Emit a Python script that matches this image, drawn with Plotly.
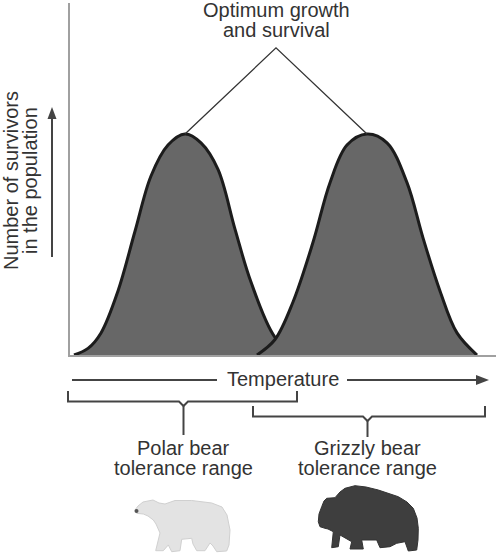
import plotly.graph_objects as go

# survival curves (x = temperature units, y = % of peak survivors)
polar_x = [4, 18, 31, 48, 65, 81, 98, 115, 131, 148, 165, 181, 205, 226]
polar_y = [0, 3, 10, 29, 56, 81, 95, 100, 96, 84, 57, 33, 8, 0]
grizzly_x = [187, 205, 223, 243, 260, 277, 297, 317, 337, 353, 370, 387, 407]
grizzly_y = [0, 7, 24, 51, 78, 95, 100, 96, 78, 53, 29, 10, 0]

title_lines = ['Optimum growth', 'and survival']
ylabel_lines = ['Number of survivors', 'in the population']
polar_label = ['Polar bear', 'tolerance range']
grizzly_label = ['Grizzly bear', 'tolerance range']

W, H = 496, 554
FONT = 'Liberation Sans, Arial, sans-serif'
TXT = '#333333'


def pp(x, y):
    # pixel -> paper (margins are zero so paper == whole figure)
    return x / W, 1 - y / H


def path(pts, close=False):
    s = ''
    for i, (x, y) in enumerate(pts):
        a, b = pp(x, y)
        s += ('M' if i == 0 else 'L') + f'{a:.5f},{b:.5f} '
    return s + ('Z' if close else '')


fig = go.Figure()

fig.add_trace(go.Scatter(x=polar_x, y=polar_y, fill='tozeroy', fillcolor='#676767',
                         mode='lines', line=dict(color='#1c1c1c', width=3, shape='spline', smoothing=1.0),
                         showlegend=False, hoverinfo='skip'))
fig.add_trace(go.Scatter(x=grizzly_x, y=grizzly_y, fill='tozeroy', fillcolor='#676767',
                         mode='lines', line=dict(color='#1c1c1c', width=3, shape='spline', smoothing=1.0),
                         showlegend=False, hoverinfo='skip'))

# pointer lines from the label to both peaks
p1 = polar_x[polar_y.index(max(polar_y))]
p2 = grizzly_x[grizzly_y.index(max(grizzly_y))]
fig.add_trace(go.Scatter(x=[p1, (p1 + p2) / 2, p2], y=[max(polar_y), 139, max(grizzly_y)],
                         mode='lines', line=dict(color='#333333', width=1.3),
                         showlegend=False, hoverinfo='skip'))

shapes = []
line_style = dict(color='#444444', width=2)

# temperature arrow
shapes.append(dict(type='path', xref='paper', yref='paper', path=path([(72, 380), (217, 380)]), line=line_style))
shapes.append(dict(type='path', xref='paper', yref='paper', path=path([(347, 380), (480, 380)]), line=line_style))
shapes.append(dict(type='path', xref='paper', yref='paper', path=path([(489, 380), (476, 375), (476, 385)], True),
                   fillcolor='#444444', line=dict(width=0)))

# y arrow
shapes.append(dict(type='path', xref='paper', yref='paper', path=path([(52, 257), (52, 116)]), line=line_style))
shapes.append(dict(type='path', xref='paper', yref='paper', path=path([(52, 107), (47.5, 119), (56.5, 119)], True),
                   fillcolor='#444444', line=dict(width=0)))

# brackets
shapes.append(dict(type='path', xref='paper', yref='paper',
                   path=path([(68, 391), (68, 401.5), (179, 401.5), (183.5, 406), (188, 401.5), (297, 401.5), (297, 391)]),
                   line=line_style))
shapes.append(dict(type='path', xref='paper', yref='paper', path=path([(183.5, 406), (183.5, 435)]), line=line_style))
shapes.append(dict(type='path', xref='paper', yref='paper',
                   path=path([(253, 406), (253, 416.5), (363, 416.5), (367.5, 421), (372, 416.5), (485, 416.5), (485, 406)]),
                   line=line_style))
shapes.append(dict(type='path', xref='paper', yref='paper', path=path([(367.5, 421), (367.5, 437)]), line=line_style))

# bear silhouettes
polar_body = [(135, 510), (138, 506), (143, 502), (148, 501), (153, 500), (159, 503), (165, 504), (175, 500.5),
              (191.7, 500.5), (211.7, 503), (222, 507), (227, 515), (230, 530), (229, 545), (226.7, 551),
              (216.7, 551.7), (213, 546), (210, 543), (205, 550.7), (196.7, 550.7), (193, 544), (191.7, 538.3),
              (181.7, 539.3), (180, 550.7), (171.7, 551.7), (168.3, 545), (163.3, 550.7), (155.7, 550.7),
              (160, 533), (156, 524), (153.3, 520), (148, 516), (143.3, 514), (136.7, 513.3)]
shapes.append(dict(type='path', xref='paper', yref='paper', path=path(polar_body, True),
                   fillcolor='#e3e3e3', line=dict(color='#d0d0d0', width=1)))
a, b = pp(134.5, 509)
c, d = pp(138.5, 513)
shapes.append(dict(type='circle', xref='paper', yref='paper', x0=a, y0=b, x1=c, y1=d,
                   fillcolor='#555555', line=dict(width=0)))

grizzly_body = [(318.3, 521.7), (319, 514), (321.7, 506.7), (324, 501), (326.7, 498.3), (335, 497.7),
                (340, 492), (345, 488.3), (355, 485.7), (366, 487), (378.3, 490), (398.3, 496.7), (407, 502),
                (413.3, 508.3), (417, 518), (418.3, 528.3), (418, 540), (416.7, 550), (408.3, 551), (405, 541.7),
                (396.7, 543.3), (390, 546.7), (380, 547.7), (376.7, 540), (361.7, 540), (363.3, 549), (350, 549),
                (351.7, 541.7), (340, 535), (338.3, 546.7), (331.7, 547.7), (333.3, 531.7), (328, 529),
                (325, 528.3), (320, 526.7)]
shapes.append(dict(type='path', xref='paper', yref='paper', path=path(grizzly_body, True),
                   fillcolor='#3e3e3e', line=dict(color='#333333', width=1)))

annotations = []


def label(text, x, y, angle=0):
    a, b = pp(x, y)
    annotations.append(dict(text=text, x=a, y=b, xref='paper', yref='paper', showarrow=False,
                            xanchor='center', yanchor='middle', textangle=angle,
                            font=dict(family=FONT, size=20, color=TXT)))


label(title_lines[0], 276, 9.5)
label(title_lines[1], 276, 30)
label('Temperature', 283, 379)
label(polar_label[0], 183.5, 448)
label(polar_label[1], 183.5, 468)
label(grizzly_label[0], 367.5, 448)
label(grizzly_label[1], 367.5, 468)
label(ylabel_lines[0], 11, 181, -90)
label(ylabel_lines[1], 30, 181, -90)

fig.update_layout(
    width=W, height=H,
    margin=dict(l=0, r=0, t=0, b=0),
    paper_bgcolor='white', plot_bgcolor='white',
    shapes=shapes, annotations=annotations,
    xaxis=dict(domain=[70 / W, 1], range=[0, 426], showgrid=False, zeroline=False,
               showticklabels=False, ticks='', showline=True, linecolor='#a0a0a0', linewidth=2),
    yaxis=dict(domain=[1 - 355 / H, 1 - 3 / H], range=[0, 159.3], showgrid=False, zeroline=False,
               showticklabels=False, ticks='', showline=True, linecolor='#a0a0a0', linewidth=2),
)

fig.write_html('out.html', config={'displayModeBar': False},
               post_script="document.body.style.margin='0';")
